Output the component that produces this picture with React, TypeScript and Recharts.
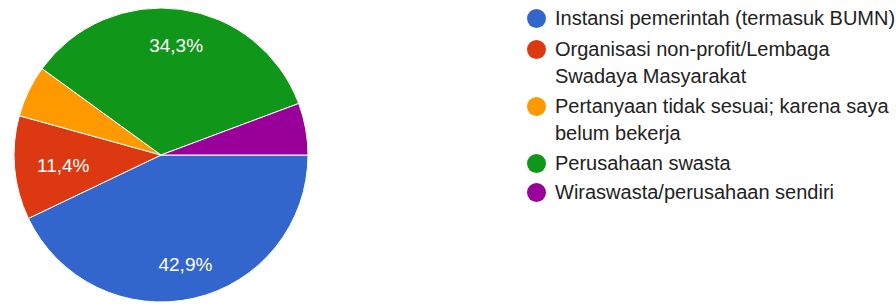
import { PieChart, Pie, Cell } from "recharts";

const categories = [
  "Instansi pemerintah (termasuk BUMN)",
  "Organisasi non-profit/Lembaga Swadaya Masyarakat",
  "Pertanyaan tidak sesuai; karena saya belum bekerja",
  "Perusahaan swasta",
  "Wiraswasta/perusahaan sendiri",
];
const shares = [42.9, 11.4, 5.7, 34.3, 5.7];
const colors = ["#3366cc", "#dc3912", "#ff9900", "#109618", "#990099"];

const data = categories.map((name, i) => ({ name, value: shares[i] }));

const RAD = Math.PI / 180;
const FONT = "Arial, 'Liberation Sans', sans-serif";

// label placed so its box stays inside ~0.855 of the radius, like Google charts
function renderLabel(props: any) {
  const { cx, cy, midAngle, outerRadius, value } = props;
  if (value < 10) return null;
  const text = value.toFixed(1).replace(".", ",") + "%";
  const w = text.length * 10.8;
  const h = 14;
  const c = Math.abs(Math.cos(-midAngle * RAD));
  const s = Math.abs(Math.sin(-midAngle * RAD));
  const rt = outerRadius * 0.855;
  const b = c * w + s * h;
  const k = (w * w) / 4 + (h * h) / 4 - rt * rt;
  const d = (-b + Math.sqrt(b * b - 4 * k)) / 2;
  const x = cx + d * Math.cos(-midAngle * RAD);
  const y = cy + d * Math.sin(-midAngle * RAD) + 2;
  return (
    <text
      x={x}
      y={y}
      fill="#fff"
      textAnchor="middle"
      dominantBaseline="central"
      style={{ fontSize: 19, fontFamily: FONT }}
    >
      {text}
    </text>
  );
}

export default function App() {
  return (
    <div style={{ position: "absolute", left: 0, top: 0, width: 896, height: 304, background: "#fff" }}>
      <div style={{ position: "absolute", left: 0, top: 0 }}>
        <PieChart width={330} height={304} margin={{ top: 0, right: 0, bottom: 0, left: 0 }}>
          <Pie
            data={data}
            dataKey="value"
            cx={161}
            cy={155}
            outerRadius={147}
            startAngle={0}
            endAngle={-360}
            stroke="#fff"
            strokeWidth={1}
            label={renderLabel}
            labelLine={false}
            isAnimationActive={false}
          >
            {data.map((d, i) => (
              <Cell key={d.name} fill={colors[i]} />
            ))}
          </Pie>
        </PieChart>
      </div>
      <div
        style={{
          position: "absolute",
          left: 527,
          top: 4.5,
          width: 369,
          fontFamily: FONT,
          fontSize: 20,
          lineHeight: "27.5px",
          color: "#222",
        }}
      >
        {data.map((d, i) => (
          <div
            key={d.name}
            style={{ display: "flex", alignItems: "flex-start", marginBottom: i === 0 ? 3.5 : 2 }}
          >
            <div
              style={{
                width: 19,
                height: 19,
                borderRadius: "50%",
                background: colors[i],
                marginTop: 4.25,
                flexShrink: 0,
              }}
            />
            <div style={{ marginLeft: 9, width: 341 }}>{d.name}</div>
          </div>
        ))}
      </div>
    </div>
  );
}
